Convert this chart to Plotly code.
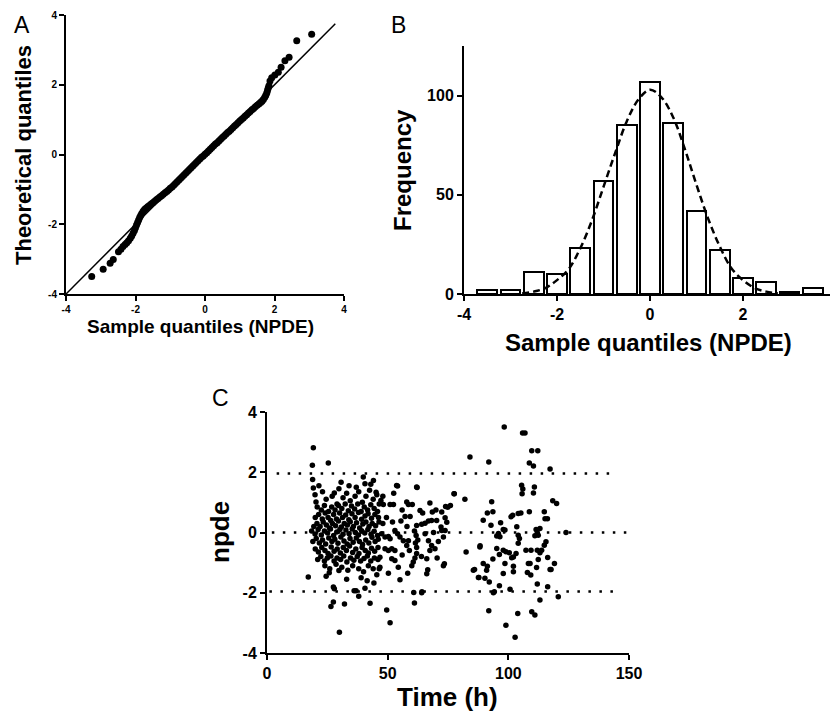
import plotly.graph_objects as go

PAGE_OFFSET = 8  # browser body margin around the plot div
W, H = 838 - PAGE_OFFSET, 714 - PAGE_OFFSET
FONT = "Arial, Liberation Sans, sans-serif"

# ---- Panel A: Q-Q plot, (sample quantile, theoretical quantile) ----
qq_points = [
    (-3.26, -3.50), (-2.93, -3.29), (-2.73, -3.12), (-2.64, -3.01), (-2.49, -2.79),
    (-2.42, -2.72), (-2.36, -2.64), (-2.30, -2.58), (-2.25, -2.53), (-2.20, -2.47),
    (-2.15, -2.40), (-2.11, -2.34), (-2.07, -2.26), (-2.03, -2.18), (-2.00, -2.10),
    (-1.97, -2.02), (-1.94, -1.95), (-1.91, -1.88), (-1.88, -1.81), (-1.85, -1.75),
    (-1.82, -1.69), (-1.78, -1.63), (-1.74, -1.58), (-1.70, -1.54), (-1.65, -1.50),
    (-1.60, -1.46), (-1.55, -1.42), (-1.50, -1.38), (-1.45, -1.34), (-1.40, -1.30),
    (-1.35, -1.26), (-1.30, -1.22), (-1.25, -1.18), (-1.20, -1.14), (-1.15, -1.10),
    (-1.10, -1.06), (-1.05, -1.02), (-1.00, -0.97), (-0.95, -0.93), (-0.90, -0.88),
    (-0.85, -0.83), (-0.80, -0.78), (-0.75, -0.73), (-0.70, -0.68), (-0.65, -0.63),
    (-0.60, -0.58), (-0.55, -0.53), (-0.50, -0.48), (-0.45, -0.43), (-0.40, -0.38),
    (-0.35, -0.33), (-0.30, -0.28), (-0.25, -0.23), (-0.20, -0.18), (-0.15, -0.13),
    (-0.10, -0.08), (-0.05, -0.04), (0.00, 0.01), (0.05, 0.05), (0.10, 0.10),
    (0.15, 0.15), (0.20, 0.20), (0.25, 0.25), (0.30, 0.30), (0.35, 0.34),
    (0.40, 0.39), (0.45, 0.44), (0.50, 0.49), (0.55, 0.53), (0.60, 0.58),
    (0.65, 0.63), (0.70, 0.67), (0.75, 0.72), (0.80, 0.77), (0.85, 0.82),
    (0.90, 0.86), (0.95, 0.91), (1.00, 0.96), (1.05, 1.00), (1.10, 1.05),
    (1.15, 1.10), (1.20, 1.14), (1.25, 1.19), (1.30, 1.23), (1.35, 1.28),
    (1.40, 1.32), (1.45, 1.37), (1.50, 1.41), (1.55, 1.45), (1.60, 1.49),
    (1.64, 1.53), (1.68, 1.58), (1.72, 1.64), (1.75, 1.70), (1.78, 1.77),
    (1.80, 1.84), (1.82, 1.91), (1.84, 1.97), (1.87, 2.11), (1.92, 2.20),
    (2.01, 2.28), (2.11, 2.36), (2.19, 2.50), (2.30, 2.69), (2.42, 2.79),
    (2.64, 3.26), (3.07, 3.45),
]
identity_line = [-4, 3.75]

# ---- Panel B: histogram of NPDE with fitted normal ----
bin_centers = [-3.5, -3.0, -2.5, -2.0, -1.5, -1.0, -0.5, 0.0, 0.5, 1.0, 1.5, 2.0, 2.5, 3.0, 3.5]
bin_counts = [2, 2, 11, 10, 23, 57, 85, 107, 86, 42, 22, 8, 6, 1, 3]
fit_x = [-2.75, -2.5, -2.25, -2.0, -1.75, -1.5, -1.25, -1.0, -0.75, -0.5, -0.25, 0.0,
         0.25, 0.5, 0.75, 1.0, 1.25, 1.5, 1.75, 2.0, 2.25, 2.5, 2.75]
fit_y = [0.3, 1.2, 3, 7, 12.5, 23, 37, 54, 71, 87, 98, 103,
         99, 89, 73, 55, 38, 24, 13, 7, 3, 1.2, 0.3]

# ---- Panel C: npde vs time, (time h, npde) ----
early_points = [
    (17.1, -1.48), (18.8, 2.23), (19.2, 2.81), (18.9, 1.76), (19.2, 1.48), (19.9, 1.25),
    (20.3, 1.01), (25.4, 2.31), (30.7, 1.67), (29.8, 1.45), (27.9, 1.31), (39.9, 1.84),
    (40.6, 1.62), (45.2, 1.34), (44.1, 1.73), (25.8, -1.34), (29.8, -1.26), (27.5, -1.81),
    (27.9, -1.87), (36.1, -1.93), (36.9, -1.93), (40.6, -1.85), (44.3, -1.68), (38.0, -2.12),
    (27.5, -2.31), (26.5, -2.46), (32.1, -2.37), (42.7, -2.35), (30.0, -3.31),
    (24.5, 1.10), (27.0, 1.20), (29.0, 0.95), (31.5, 1.15), (33.0, 1.30), (34.5, 1.05),
    (36.5, 1.20), (38.0, 1.35), (39.5, 1.00), (41.0, 1.20), (42.5, 1.40), (44.0, 1.10),
    (45.5, 1.25), (46.5, 0.95),
    (20.8, 0.85), (22.5, 0.75), (23.8, 0.90), (25.5, 0.70), (26.8, 0.85), (28.2, 0.75),
    (29.6, 0.90), (31.0, 0.80), (32.4, 0.95), (33.7, 0.72), (35.0, 0.88), (36.3, 0.78),
    (37.6, 0.95), (39.0, 0.70), (40.3, 0.85), (41.7, 0.75), (43.0, 0.92), (44.4, 0.80),
    (45.8, 0.70),
    (20.0, 0.50), (21.4, 0.60), (22.9, 0.45), (24.1, 0.65), (25.3, 0.50), (26.4, 0.40),
    (27.6, 0.60), (28.8, 0.45), (30.1, 0.65), (31.3, 0.50), (32.6, 0.58), (33.9, 0.42),
    (35.2, 0.62), (36.5, 0.50), (37.9, 0.66), (39.2, 0.44), (40.6, 0.55), (41.9, 0.62),
    (43.3, 0.47), (44.7, 0.60), (46.2, 0.50),
    (19.4, 0.20), (20.7, 0.30), (22.0, 0.20), (23.3, 0.35), (24.6, 0.25), (25.9, 0.15),
    (27.1, 0.30), (28.4, 0.22), (29.6, 0.38), (30.8, 0.18), (32.0, 0.30), (33.3, 0.25),
    (34.5, 0.36), (35.8, 0.20), (37.1, 0.32), (38.4, 0.15), (39.7, 0.28), (41.0, 0.35),
    (42.3, 0.20), (43.6, 0.30), (45.0, 0.22), (46.4, 0.35),
    (18.5, 0.05), (19.9, -0.05), (21.2, 0.10), (22.5, -0.08), (23.8, 0.05), (25.1, -0.02),
    (26.3, 0.12), (27.6, -0.10), (28.9, 0.02), (30.2, 0.10), (31.5, -0.06), (32.7, 0.08),
    (34.0, -0.04), (35.3, 0.12), (36.6, 0.00), (37.9, -0.08), (39.2, 0.06), (40.5, -0.02),
    (41.8, 0.10), (43.1, -0.06), (44.4, 0.04), (45.8, -0.10),
    (19.0, -0.30), (20.4, -0.20), (21.7, -0.35), (23.0, -0.25), (24.3, -0.38), (25.6, -0.18),
    (26.9, -0.30), (28.1, -0.22), (29.4, -0.36), (30.6, -0.15), (31.9, -0.28), (33.2, -0.38),
    (34.4, -0.20), (35.7, -0.32), (37.0, -0.18), (38.3, -0.30), (39.6, -0.40), (40.9, -0.25),
    (42.2, -0.35), (43.5, -0.16), (44.8, -0.30), (46.1, -0.22),
    (20.0, -0.55), (21.3, -0.65), (22.7, -0.50), (24.0, -0.60), (25.3, -0.70), (26.6, -0.48),
    (27.8, -0.62), (29.1, -0.55), (30.4, -0.68), (31.6, -0.50), (32.9, -0.60), (34.2, -0.45),
    (35.5, -0.66), (36.8, -0.55), (38.1, -0.70), (39.4, -0.50), (40.7, -0.60), (42.0, -0.68),
    (43.3, -0.52), (44.6, -0.62), (46.0, -0.50),
    (21.0, -0.90), (22.3, -0.80), (23.8, -0.95), (25.0, -0.85), (26.5, -0.78), (27.8, -0.95),
    (29.0, -0.85), (30.5, -0.90), (31.8, -0.78), (33.1, -0.98), (34.6, -0.85), (36.0, -0.92),
    (37.4, -0.80), (38.8, -0.95), (40.2, -0.86), (41.6, -0.78), (43.0, -0.95), (44.5, -0.85),
    (46.0, -0.90),
    (24.0, -1.10), (26.0, -1.20), (28.6, -1.05), (31.0, -1.15), (33.5, -1.25), (35.5, -1.10),
    (38.0, -1.20), (40.0, -1.30), (42.0, -1.10), (44.0, -1.20), (45.5, -1.40),
    (21.5, 1.55), (23.0, 1.35), (34.0, 1.55), (37.0, 1.50), (43.0, 1.60), (24.5, -1.45),
    (33.0, -1.55), (39.0, -1.50), (41.5, -1.60), (46.5, -1.20),
]
mid_points = [
    (53.7, 1.56), (62.0, 1.51), (47.2, 1.06), (48.2, 0.93), (51.0, 0.93), (52.4, 0.93),
    (57.9, 1.01), (58.6, 0.93), (60.2, 0.93), (67.5, 0.98), (74.0, 0.86), (74.9, 0.84),
    (77.6, 1.29), (63.4, 0.73), (68.5, 0.68), (72.4, 0.68), (73.8, 0.49), (74.5, 0.34),
    (70.3, 0.40), (55.5, 0.38), (57.2, 0.53), (59.3, 0.53), (62.0, 0.23), (64.1, 0.27),
    (65.5, 0.31), (66.9, 0.38), (68.2, 0.40), (72.1, 0.18), (73.8, 0.07), (53.0, 0.07),
    (54.1, -0.04), (55.1, -0.15), (48.9, -0.15), (50.3, -0.13), (51.0, -0.21), (47.5, -0.04),
    (61.1, 0.05), (61.8, -0.10), (62.5, -0.25), (61.5, -0.35), (62.0, -0.50), (62.0, -0.70),
    (61.3, -0.85), (60.6, -0.98), (60.0, -1.10), (65.5, -0.04), (66.9, -0.27), (68.2, -0.43),
    (69.6, -0.54), (58.6, -0.27), (57.9, -0.43), (56.5, -0.27), (48.9, -0.54), (50.3, -0.60),
    (51.7, -0.54), (53.0, -0.60), (46.8, -0.82), (51.7, -0.87), (53.0, -0.93), (54.4, -1.15),
    (46.8, -1.15), (50.3, -1.35), (55.1, -1.57), (58.3, -1.35), (66.2, -1.37), (66.6, -1.24),
    (66.2, -0.87), (73.1, -1.10), (73.5, -1.04), (64.1, -2.00), (61.1, -2.34), (49.6, -2.57),
    (51.0, -3.00), (73.1, -0.15), (72.4, 0.07), (60.8, -1.99), (64.2, -1.97), (54.1, 1.54),
    (62.2, 1.49), (76.0, 0.90), (70.0, 0.75), (56.0, 0.75), (64.5, 0.65), (52.0, 0.35),
    (49.5, 0.50), (48.0, 0.30), (58.0, 0.20), (69.0, 0.00), (71.0, -0.30), (56.0, -0.75),
    (59.0, -0.60), (64.0, -0.80), (67.5, -0.60), (70.5, -0.85), (48.0, 1.20), (52.5, 1.30),
]
late_points = [
    (77.5, 1.29), (82.0, 1.10), (82.5, -0.65), (84.1, 2.51), (86.0, -1.23), (87.8, -1.49),
    (88.2, -0.48), (98.3, 3.50), (105.9, 3.30), (106.9, 3.30), (109.7, 2.71), (112.2, 2.71),
    (108.7, 2.31), (110.4, 2.21), (91.9, 2.34), (117.3, 2.11), (105.5, 1.57), (106.0, 1.44),
    (105.7, 1.29), (110.8, 1.51), (110.4, 1.31), (118.4, 1.05), (120.0, 0.96), (93.1, 1.02),
    (91.3, 0.65), (93.6, 0.69), (89.6, 0.41), (92.8, 0.24), (96.8, 0.32), (101.1, 0.52),
    (101.8, 0.57), (104.1, 0.63), (105.2, 0.65), (108.7, 0.69), (114.9, 0.69), (115.2, 0.46),
    (116.2, 0.46), (97.9, 0.10), (98.6, 0.08), (95.9, -0.03), (95.2, -0.12), (96.5, -0.14),
    (103.5, 0.19), (104.1, -0.09), (104.6, -0.20), (104.1, -0.36), (111.5, 0.10), (112.0, -0.01),
    (112.4, -0.09), (113.1, 0.13), (111.0, -0.11), (123.9, 0.00), (115.6, -0.31), (114.9, -0.42),
    (88.3, -0.44), (95.2, -0.53), (96.3, -0.73), (97.9, -0.59), (99.0, -0.64), (100.4, -0.67),
    (103.2, -0.70), (107.3, -0.59), (109.4, -0.59), (112.0, -0.59), (113.1, -0.67), (113.8, -0.59),
    (116.3, -0.83), (112.4, -0.90), (101.4, -0.84), (102.1, -0.81), (93.6, -0.88), (89.6, -1.03),
    (91.3, -1.12), (91.0, -1.25), (98.6, -1.03), (102.1, -1.12), (102.1, -1.30), (108.3, -1.03),
    (109.0, -1.03), (111.7, -1.16), (117.3, -1.23), (117.7, -1.23), (119.1, -1.03), (85.5, -1.25),
    (107.9, -1.33), (109.3, -1.41), (97.9, -1.36), (87.6, -1.49), (90.3, -1.52), (92.1, -1.64),
    (96.3, -1.77), (93.8, -2.00), (94.2, -1.97), (100.7, -1.88), (112.0, -1.71), (116.3, -1.80),
    (120.7, -2.13), (113.1, -2.24), (91.9, -2.60), (103.9, -2.69), (109.7, -2.63), (111.0, -2.74),
    (99.0, -3.08), (102.8, -3.48),
]
ref_levels = [1.96, 0, -1.96]
ref_starts = [4, 2, 1]
ref_ends = [143, 150, 145]


def px_x(p):
    return (p - PAGE_OFFSET) / W


def px_y(p):
    return 1 - (p - PAGE_OFFSET) / H


def axis_style(rng, tickvals, size, domain, anchor):
    return dict(range=rng, tickmode="array", tickvals=tickvals,
                ticktext=[f"<b>{v}</b>" for v in tickvals],
                domain=domain, anchor=anchor, automargin=False,
                showline=True, linecolor="black", linewidth=2, ticks="outside",
                ticklen=5, tickwidth=2, tickcolor="black", showgrid=False, zeroline=False,
                tickfont=dict(family=FONT, size=size, color="black"))


fig = go.Figure()

# Panel A
fig.add_trace(go.Scatter(x=identity_line, y=identity_line, mode="lines",
                         line=dict(color="black", width=1.5), xaxis="x", yaxis="y"))
fig.add_trace(go.Scatter(x=[p[0] for p in qq_points], y=[p[1] for p in qq_points],
                         mode="markers", marker=dict(color="black", size=7),
                         xaxis="x", yaxis="y"))

# Panel B
fig.add_trace(go.Bar(x=bin_centers, y=bin_counts, width=0.42,
                     marker=dict(color="white", line=dict(color="black", width=2)),
                     xaxis="x2", yaxis="y2"))
fig.add_trace(go.Scatter(x=fit_x, y=fit_y, mode="lines",
                         line=dict(color="black", width=2.5, dash="7px,4px", shape="spline"),
                         xaxis="x2", yaxis="y2"))

# Panel C
for lvl, x0, x1 in zip(ref_levels, ref_starts, ref_ends):
    fig.add_trace(go.Scatter(x=[x0, x1], y=[lvl, lvl], mode="lines",
                             line=dict(color="black", width=2.5, dash="2.5px,8.5px"),
                             xaxis="x3", yaxis="y3"))
all_c = early_points + mid_points + late_points
fig.add_trace(go.Scatter(x=[p[0] for p in all_c], y=[p[1] for p in all_c],
                         mode="markers", marker=dict(color="black", size=5.5),
                         xaxis="x3", yaxis="y3"))

fig.update_layout(
    width=W, height=H, showlegend=False,
    margin=dict(l=0, r=0, t=0, b=0),
    paper_bgcolor="white", plot_bgcolor="white",
    bargap=0,
    xaxis=axis_style([-4, 4], [-4, -2, 0, 2, 4], 10, [px_x(66), px_x(344)], "y"),
    yaxis=axis_style([-4, 4], [-4, -2, 0, 2, 4], 10, [px_y(294), px_y(15)], "x"),
    xaxis2=axis_style([-4, 4], [-4, -2, 0, 2, 4], 16, [px_x(464), px_x(836)], "y2"),
    yaxis2=axis_style([0, 125], [0, 50, 100], 16, [px_y(294), px_y(46)], "x2"),
    xaxis3=axis_style([0, 150], [0, 50, 100, 150], 16, [px_x(267), px_x(629)], "y3"),
    yaxis3=axis_style([-4, 4], [-4, -2, 0, 2, 4], 16, [px_y(653), px_y(412)], "x3"),
)

labels = [
    ("Theoretical quantiles", 23, 155, 22, True, -90),
    ("Sample quantiles (NPDE)", 200, 326, 19, True, 0),
    ("Frequency", 403, 170, 24, True, -90),
    ("Sample quantiles (NPDE)", 648, 342, 24, True, 0),
    ("npde", 220, 532, 26, True, -90),
    ("Time (h)", 447, 697, 26, True, 0),
    ("A", 22, 25, 23, False, 0),
    ("B", 398, 25, 23, False, 0),
    ("C", 221, 398, 23, False, 0),
]
for text, x, y, size, bold, angle in labels:
    fig.add_annotation(text=text, x=px_x(x), y=px_y(y), xref="paper", yref="paper",
                       showarrow=False, textangle=angle, xanchor="center", yanchor="middle",
                       font=dict(family=FONT, size=size, color="black",
                                 weight="bold" if bold else "normal"))

fig.write_html("out.html")
